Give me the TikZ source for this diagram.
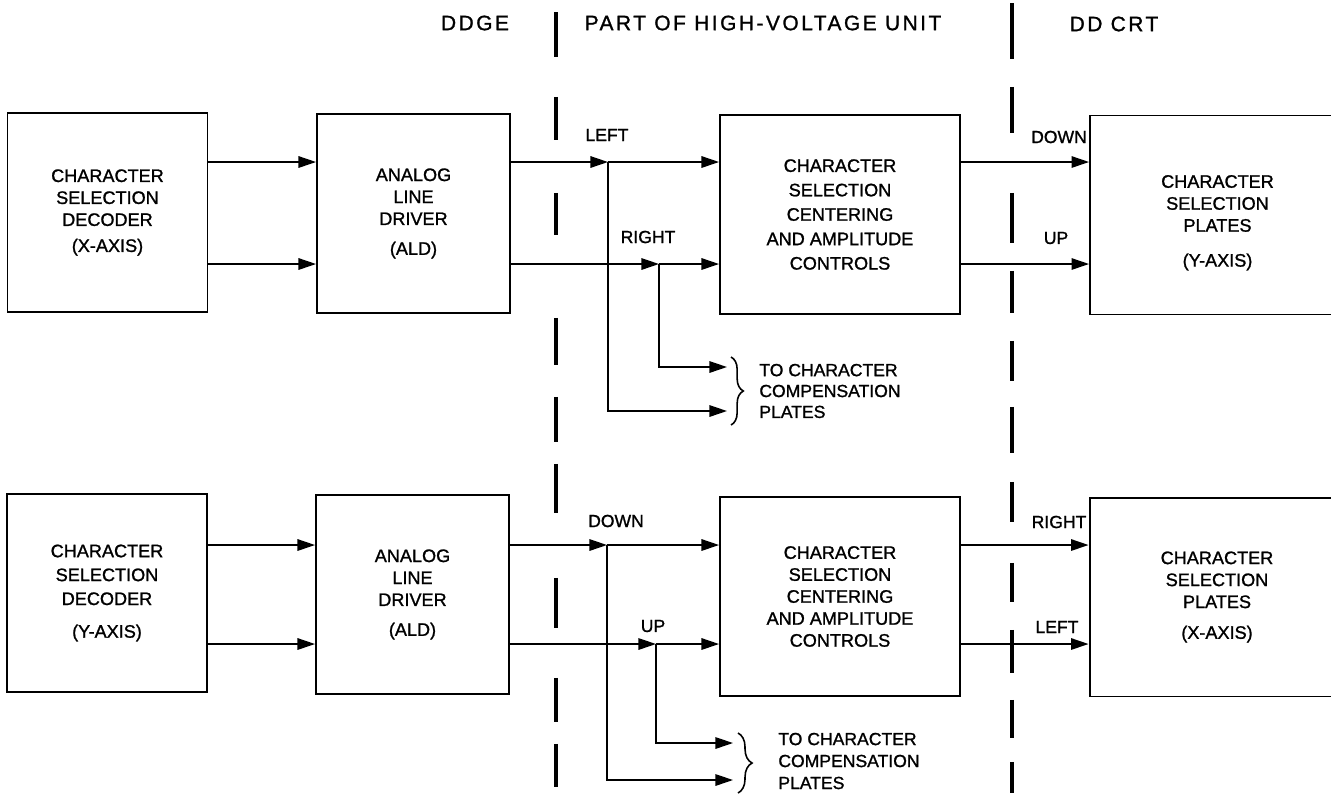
\documentclass[tikz,border=0pt]{standalone}
\usepackage{fontspec}
\setmainfont{Liberation Sans}[BoldFont=Liberation Sans, BoldFeatures={FakeBold=1.2}]
\newfontfamily\titlefont{Liberation Sans}[LetterSpace=12, FakeBold=1.2]
\usepackage{tikz}
\usetikzlibrary{arrows.meta, decorations.pathreplacing}

\begin{document}
\begin{tikzpicture}[x=0.02cm, y=-0.02cm,
    blockbox/.style={draw, line width=1.1pt, inner sep=0pt, align=center,
        minimum height=3.98cm, font=\fontsize{10.3}{12.5}\selectfont\bfseries},
    flow/.style={line width=1pt, -{Triangle[length=10pt, width=6.5pt]}},
    sigtag/.style={font=\fontsize{10}{12}\selectfont\bfseries},
    comptext/.style={anchor=west, align=left, inner sep=0pt},
    hdr/.style={font=\titlefont\fontsize{11.9}{14}\selectfont},
    divider/.style={line width=2pt}]

    % page
    \useasboundingbox (0,0) rectangle (1331,796);
    \clip (0,0) rectangle (1331,796);

    % headings
    \node[hdr] (hdrDdge) at (475,23) {DDGE};
    \node[hdr] (hdrHvu) at (763,23) {PART OF HIGH-VOLTAGE UNIT};
    \node[hdr] (hdrCrt) at (1114,24) {DD CRT};

    % unit boundaries
    \draw[divider, dash pattern=on 0.9cm off 0.8cm on 0.86cm off 1.06cm on 0.84cm off 1.66cm
        on 0.94cm off 0.64cm on 0.9cm off 0.44cm on 0.98cm off 1.3cm on 1cm off 1cm
        on 0.88cm off 0.44cm on 0.86cm off 2cm] (556,12) -- (556,787);
    \draw[divider, dash pattern=on 1.12cm off 0.56cm on 0.92cm off 1.2cm on 1cm off 0.56cm
        on 0.84cm off 0.56cm on 0.8cm off 0.52cm on 0.92cm off 0.58cm on 0.8cm off 0.82cm
        on 0.78cm off 0.56cm on 0.86cm off 0.54cm on 0.76cm off 0.48cm on 0.62cm off 2cm]
        (1012,3) -- (1012,793);

    % x-axis chain
    \node[blockbox, minimum width=4cm] (decX) at (107.5,212.5)
        {CHARACTER\\SELECTION\\DECODER\\[2.3pt](X-AXIS)};
    \node[blockbox, minimum width=3.86cm] (aldX) at (413.5,213.5)
        {ANALOG\\LINE\\DRIVER\\[4.5pt](ALD)};
    \node[blockbox, minimum width=4.8cm, font=\fontsize{10.3}{13.9}\selectfont\bfseries] (ctrX) at (840,214.5)
        {CHARACTER\\SELECTION\\CENTERING\\AND AMPLITUDE\\CONTROLS};
    \node[blockbox, minimum width=5.1cm] (plX) at (1217.5,215)
        {\rule{0pt}{16pt}CHARACTER\\SELECTION\\PLATES\\[7.4pt](Y-AXIS)};

    % y-axis chain
    \node[blockbox, minimum width=4cm, minimum height=3.96cm,
        font=\fontsize{10.3}{13.6}\selectfont\bfseries] (decY) at (107,593)
        {CHARACTER\\SELECTION\\DECODER\\[5pt](Y-AXIS)};
    \node[blockbox, minimum width=3.86cm] (aldY) at (412.5,594.5)
        {ANALOG\\LINE\\DRIVER\\[4.5pt](ALD)};
    \node[blockbox, minimum width=4.8cm] (ctrY) at (840,596.5)
        {CHARACTER\\SELECTION\\CENTERING\\AND AMPLITUDE\\CONTROLS};
    \node[blockbox, minimum width=5.1cm] (plY) at (1217,597)
        {CHARACTER\\SELECTION\\PLATES\\[5pt](X-AXIS)};

    % signal levels and branch points
    \coordinate (rowX1) at (0,162);
    \coordinate (rowX2) at (0,264);
    \coordinate (rowY1) at (0,545);
    \coordinate (rowY2) at (0,644);
    \coordinate (splitLX) at (608,162);
    \coordinate (splitRX) at (659,264);
    \coordinate (endRX) at (727,367);
    \coordinate (endLX) at (727,411);
    \coordinate (splitDY) at (607,545);
    \coordinate (splitUY) at (656,644);
    \coordinate (endUY) at (733,743);
    \coordinate (endDY) at (733,780);

    % x-axis connectors
    \draw[flow] (decX.east |- rowX1) -- (aldX.west |- rowX1);
    \draw[flow] (decX.east |- rowX2) -- (aldX.west |- rowX2);
    \draw[flow] (aldX.east |- rowX1) -- (splitLX);
    \draw[flow] (splitLX) -- (ctrX.west |- rowX1);
    \draw[flow] (aldX.east |- rowX2) -- (splitRX);
    \draw[flow] (splitRX) -- (ctrX.west |- rowX2);
    \draw[flow] (splitRX) |- (endRX);
    \draw[flow] (splitLX) |- (endLX);
    \draw[flow] (ctrX.east |- rowX1) -- (plX.west |- rowX1);
    \draw[flow] (ctrX.east |- rowX2) -- (plX.west |- rowX2);

    % y-axis connectors
    \draw[flow] (decY.east |- rowY1) -- (aldY.west |- rowY1);
    \draw[flow] (decY.east |- rowY2) -- (aldY.west |- rowY2);
    \draw[flow] (aldY.east |- rowY1) -- (splitDY);
    \draw[flow] (splitDY) -- (ctrY.west |- rowY1);
    \draw[flow] (aldY.east |- rowY2) -- (splitUY);
    \draw[flow] (splitUY) -- (ctrY.west |- rowY2);
    \draw[flow] (splitUY) |- (endUY);
    \draw[flow] (splitDY) |- (endDY);
    \draw[flow] (ctrY.east |- rowY1) -- (plY.west |- rowY1);
    \draw[flow] (ctrY.east |- rowY2) -- (plY.west |- rowY2);

    % signal names
    \node[sigtag] (tagLX) at (607,135) {LEFT};
    \node[sigtag] (tagRX) at (648,237) {RIGHT};
    \node[sigtag] (tagDX) at (1059,137) {DOWN};
    \node[sigtag] (tagUX) at (1056,238) {UP};
    \node[sigtag] (tagDY) at (616,521) {DOWN};
    \node[sigtag] (tagUY) at (653,626) {UP};
    \node[sigtag] (tagRY) at (1059,522) {RIGHT};
    \node[sigtag] (tagLY) at (1057,627) {LEFT};

    % compensation plates
    \draw[line width=0.9pt, decorate, decoration={brace, amplitude=7pt}] (731,357) -- (731,425);
    \node[comptext, font=\fontsize{10}{11.9}\selectfont\bfseries] (cmpX) at (759,391)
        {TO CHARACTER\\COMPENSATION\\PLATES};
    \draw[line width=0.9pt, decorate, decoration={brace, amplitude=8pt}] (738,733) -- (738,793);
    \node[comptext, font=\fontsize{10}{12.5}\selectfont\bfseries] (cmpY) at (778,761)
        {TO CHARACTER\\COMPENSATION\\PLATES};
\end{tikzpicture}
\end{document}
